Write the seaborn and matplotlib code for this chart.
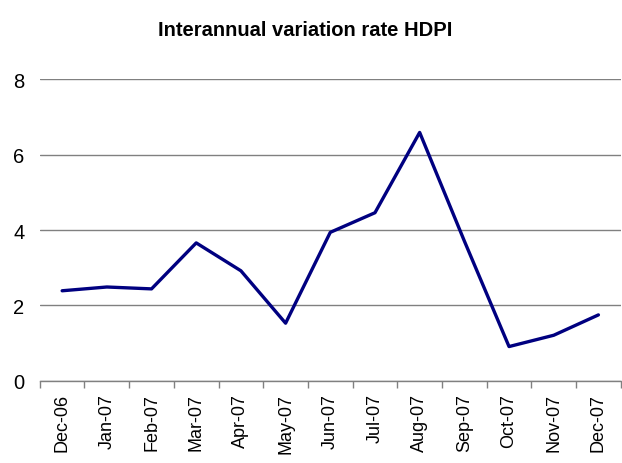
import numpy as np
import pandas as pd
import matplotlib
matplotlib.use("Agg")
import matplotlib.pyplot as plt
import seaborn as sns

months = ["Dec-06", "Jan-07", "Feb-07", "Mar-07", "Apr-07", "May-07", "Jun-07",
          "Jul-07", "Aug-07", "Sep-07", "Oct-07", "Nov-07", "Dec-07"]
rate = [2.39, 2.49, 2.44, 3.66, 2.92, 1.53, 3.94, 4.46, 6.59, 3.71, 0.91, 1.21, 1.75]

sns.set_theme(style="white")
plt.rcParams['font.family'] = ['Liberation Sans', 'DejaVu Sans']

df = pd.DataFrame({'month': months, 'rate': rate})
df['pos'] = np.arange(len(months))

fig = plt.figure(figsize=(6.22, 4.64), dpi=100)
ax = fig.add_axes([0.064, 0.177, 0.934, 0.650])

ax.yaxis.grid(True, color='#808080', linewidth=1)
ax.set_axisbelow(True)
sns.lineplot(data=df, x='pos', y='rate', ax=ax, color='#000080', linewidth=2.4)

ax.set_xlim(-0.5, len(months) - 0.5)
ax.set_ylim(0, 8)
ax.set_yticks([0, 2, 4, 6, 8])
ax.set_xticks(df['pos'])
ax.set_xticklabels(months, rotation=90, va='top', ha='center')
ax.set_xticks(np.arange(len(months) + 1) - 0.5, minor=True)
# labels kept a bit smaller than the original so they are not cut at the bottom
ax.tick_params(axis='x', which='major', length=0, pad=9, labelsize=13, labelcolor='black')
ax.tick_params(axis='x', which='minor', length=5, width=1, color='#808080', direction='out', bottom=True)
ax.tick_params(axis='y', length=0, pad=11, labelsize=14.5, labelcolor='black')
for s in ['top', 'right', 'left']:
    ax.spines[s].set_visible(False)
ax.spines['bottom'].set_color('#808080')
ax.spines['bottom'].set_linewidth(1)

ax.set_xlabel('')
ax.set_ylabel('')
fig.suptitle('Interannual variation rate HDPI', fontsize=14.5, fontweight='bold',
             y=0.955, x=0.49, color='black')

fig.savefig('out.png', dpi=100)
